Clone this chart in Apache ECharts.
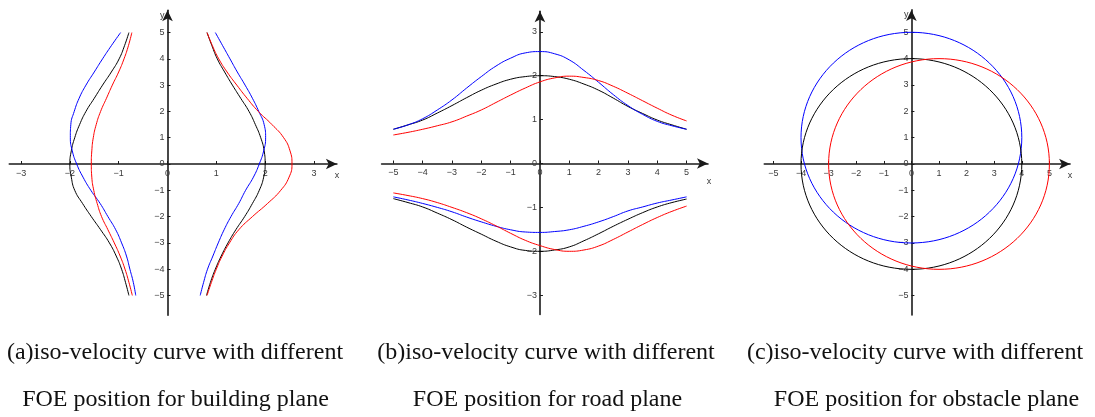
<!DOCTYPE html>
<html>
<head>
<meta charset="utf-8">
<title>iso-velocity curves</title>
<script src="https://cdn.jsdelivr.net/npm/echarts@6/dist/echarts.min.js"></script>
<style>
  html, body { margin: 0; padding: 0; background: #fff; }
  #chart { width: 1095px; height: 417px; }
</style>
</head>
<body>
<div id="chart"></div>
<script>
// (a) building plane: x of each branch read at these y values
var yA = [-5, -4.5, -4, -3.5, -3, -2.5, -2, -1.5, -1, -0.5, 0, 0.5, 1, 1.5, 2, 2.5, 3, 3.5, 4, 4.5, 5];
var aBlackR = [0.80, 0.88, 0.98, 1.10, 1.24, 1.40, 1.58, 1.74, 1.88, 1.97, 2.00, 1.98, 1.91, 1.80, 1.67, 1.50, 1.33, 1.17, 1.02, 0.91, 0.81];
var aBlackL = [-0.79, -0.86, -0.94, -1.05, -1.19, -1.37, -1.56, -1.74, -1.90, -1.97, -2.00, -1.97, -1.90, -1.80, -1.67, -1.50, -1.33, -1.15, -0.99, -0.88, -0.79];
var aBlueR = [0.67, 0.74, 0.82, 0.93, 1.04, 1.16, 1.30, 1.46, 1.60, 1.76, 1.88, 1.97, 2.01, 1.98, 1.87, 1.74, 1.59, 1.43, 1.28, 1.13, 0.98];
var aBlueL = [-0.65, -0.70, -0.77, -0.84, -0.94, -1.06, -1.22, -1.38, -1.57, -1.73, -1.86, -1.95, -1.99, -1.98, -1.91, -1.81, -1.67, -1.50, -1.33, -1.15, -0.96];
var aRedR = [0.81, 0.90, 1.00, 1.12, 1.27, 1.46, 1.74, 2.05, 2.32, 2.49, 2.55, 2.51, 2.38, 2.14, 1.86, 1.63, 1.42, 1.22, 1.05, 0.92, 0.81];
var aRedL = [-0.72, -0.79, -0.87, -0.97, -1.09, -1.22, -1.35, -1.44, -1.51, -1.55, -1.56, -1.55, -1.52, -1.46, -1.37, -1.25, -1.13, -1.00, -0.89, -0.80, -0.73];

// (b) road plane: y of each branch read at these x values
var xB = [-5, -4.5, -4, -3.5, -3, -2.5, -2, -1.5, -1, -0.5, 0, 0.5, 1, 1.5, 2, 2.5, 3, 3.5, 4, 4.5, 5];
var bBlackUp = [0.78, 0.88, 0.99, 1.15, 1.32, 1.50, 1.67, 1.81, 1.92, 1.98, 2.00, 1.98, 1.92, 1.81, 1.67, 1.49, 1.30, 1.14, 0.99, 0.88, 0.78];
var bBlueUp = [0.78, 0.88, 1.02, 1.22, 1.45, 1.72, 1.98, 2.22, 2.40, 2.52, 2.55, 2.50, 2.36, 2.12, 1.85, 1.57, 1.32, 1.12, 0.96, 0.86, 0.78];
var bRedUp = [0.65, 0.71, 0.78, 0.86, 0.95, 1.08, 1.22, 1.39, 1.56, 1.72, 1.86, 1.95, 1.99, 1.96, 1.89, 1.76, 1.60, 1.43, 1.26, 1.10, 0.97];
var bBlackLo = [-0.80, -0.89, -0.99, -1.13, -1.28, -1.45, -1.61, -1.77, -1.90, -1.98, -2.00, -1.97, -1.90, -1.76, -1.60, -1.43, -1.27, -1.12, -0.99, -0.89, -0.81];
var bBlueLo = [-0.76, -0.83, -0.91, -1.00, -1.10, -1.22, -1.33, -1.43, -1.51, -1.56, -1.57, -1.55, -1.51, -1.43, -1.33, -1.21, -1.08, -0.99, -0.90, -0.83, -0.76];
var bRedLo = [-0.67, -0.73, -0.80, -0.89, -1.00, -1.12, -1.26, -1.42, -1.59, -1.75, -1.87, -1.96, -2.00, -1.97, -1.88, -1.73, -1.56, -1.39, -1.23, -1.09, -0.97];

// (c) obstacle plane: circles as [cx, cy, r]
var cBlack = [0, 0, 4];
var cBlue = [0, 1, 4];
var cRed = [1, 0, 4];

// tick labels
var ticksAx = [-3, -2, -1, 0, 1, 2, 3];
var ticksAy = [-5, -4, -3, -2, -1, 0, 1, 2, 3, 4, 5];
var ticksBx = [-5, -4, -3, -2, -1, 0, 1, 2, 3, 4, 5];
var ticksBy = [-3, -2, -1, 0, 1, 2, 3];
var ticksCx = [-5, -4, -3, -2, -1, 0, 1, 2, 3, 4, 5];
var ticksCy = [-5, -4, -3, -2, -1, 0, 1, 2, 3, 4, 5];

var captions = [
  ['(a)iso-velocity curve with different', 'FOE position for building plane'],
  ['(b)iso-velocity curve with different', 'FOE position for road plane'],
  ['(c)iso-velocity curve with different', 'FOE position for obstacle plane']
];

var AXIS_COLOR = '#1a1a1a';
var LABEL_FONT = 'Liberation Sans';

// panel boxes and axis ranges
var grids = [
  { left: 9.3, top: 10.2, width: 327.6, height: 305 },
  { left: 381.6, top: 11.2, width: 326.4, height: 303.3 },
  { left: 764.3, top: 9.9, width: 305.8, height: 305 }
];
var xRange = [[-3.24, 3.47], [-5.4, 5.73], [-5.33, 5.75]];
var yRange = [[-5.75, 5.85], [-3.44, 3.47], [-5.73, 5.85]];

function minus(v) { return String(v).replace('-', '\u2212'); }

function makeAxis(g, isX, ticks, name, nameGap, namePad) {
  var r = isX ? xRange[g] : yRange[g];
  var box = grids[g];
  // shift the axis from the grid edge to the zero line of the other axis
  var other = isX ? yRange[g] : xRange[g];
  var len = isX ? box.height : box.width;
  var offset = -len * (0 - other[0]) / (other[1] - other[0]);
  return {
    type: 'value',
    gridIndex: g,
    min: r[0],
    max: r[1],
    position: isX ? 'bottom' : 'left',
    offset: offset,
    splitLine: { show: false },
    axisLine: {
      onZero: false,
      symbol: ['none', 'arrow'],
      symbolSize: [8, 11],
      lineStyle: { color: AXIS_COLOR, width: 1.6 }
    },
    axisTick: { inside: true, length: 3, customValues: ticks, lineStyle: { color: AXIS_COLOR, width: 1 } },
    axisLabel: {
      customValues: ticks,
      margin: isX ? 5 : 3,
      fontSize: 9,
      fontFamily: LABEL_FONT,
      color: '#3a3a3a',
      formatter: minus
    },
    name: name,
    nameLocation: 'end',
    nameGap: nameGap,
    nameTextStyle: isX
      ? { fontSize: 9, fontFamily: LABEL_FONT, color: '#3a3a3a', align: 'center', verticalAlign: 'top', padding: namePad }
      : { fontSize: 9, fontFamily: LABEL_FONT, color: '#3a3a3a', align: 'right', verticalAlign: 'middle', padding: namePad }
  };
}

function zipXY(xs, ys) {
  return xs.map(function (x, i) { return [x, ys[i]]; });
}

function curve(g, data, color) {
  return {
    type: 'line',
    xAxisIndex: g,
    yAxisIndex: g,
    data: data,
    smooth: 0.5,
    showSymbol: false,
    silent: true,
    lineStyle: { color: color, width: 1 },
    itemStyle: { color: color }
  };
}

function circle(g, c, color) {
  return {
    type: 'custom',
    xAxisIndex: g,
    yAxisIndex: g,
    data: [c],
    silent: true,
    itemStyle: { color: color },
    renderItem: function (params, api) {
      var p = api.coord([api.value(0), api.value(1)]);
      var s = api.size([api.value(2), api.value(2)]);
      return {
        type: 'ellipse',
        shape: { cx: p[0], cy: p[1], rx: s[0], ry: s[1] },
        style: { fill: null, stroke: color, lineWidth: 1 }
      };
    }
  };
}

var captionX = [[175, 175.5], [546, 547.5], [915, 926.5]];
var captionY = [353, 400];
var captionGraphics = [];
captions.forEach(function (lines, i) {
  lines.forEach(function (txt, j) {
    captionGraphics.push({
      type: 'text',
      x: captionX[i][j],
      y: captionY[j],
      silent: true,
      style: {
        text: txt,
        font: '24px "Liberation Serif"',
        fontSize: 24,
        fontFamily: 'Liberation Serif',
        fill: '#111',
        textFill: '#111',
        align: 'center',
        textAlign: 'center',
        verticalAlign: 'middle',
        textVerticalAlign: 'middle'
      }
    });
  });
});

var chart = echarts.init(document.getElementById('chart'), null, { renderer: 'canvas' });
chart.setOption({
  animation: false,
  backgroundColor: '#fff',
  grid: grids.map(function (b) {
    return { left: b.left, top: b.top, width: b.width, height: b.height, outerBoundsMode: 'none' };
  }),
  xAxis: [
    makeAxis(0, true, ticksAx, 'x', 0, [7, 0, 0, 0]),
    makeAxis(1, true, ticksBx, 'x', 1, [14, 0, 0, 0]),
    makeAxis(2, true, ticksCx, 'x', 0, [7, 0, 0, 0])
  ],
  yAxis: [
    makeAxis(0, false, ticksAy, 'y', -5, [0, 3, 0, 0]),
    makeAxis(1, false, ticksBy, '', 0, [0, 0, 0, 0]),
    makeAxis(2, false, ticksCy, 'y', -5, [0, 3, 0, 0])
  ],
  series: [
    curve(0, zipXY(aBlackR, yA), '#000000'),
    curve(0, zipXY(aBlackL, yA), '#000000'),
    curve(0, zipXY(aBlueR, yA), '#0000ff'),
    curve(0, zipXY(aBlueL, yA), '#0000ff'),
    curve(0, zipXY(aRedR, yA), '#ff0000'),
    curve(0, zipXY(aRedL, yA), '#ff0000'),
    curve(1, zipXY(xB, bBlackUp), '#000000'),
    curve(1, zipXY(xB, bBlueUp), '#0000ff'),
    curve(1, zipXY(xB, bRedUp), '#ff0000'),
    curve(1, zipXY(xB, bBlackLo), '#000000'),
    curve(1, zipXY(xB, bBlueLo), '#0000ff'),
    curve(1, zipXY(xB, bRedLo), '#ff0000'),
    circle(2, cBlue, '#0000ff'),
    circle(2, cBlack, '#000000'),
    circle(2, cRed, '#ff0000')
  ],
  graphic: captionGraphics
});
</script>
</body>
</html>
